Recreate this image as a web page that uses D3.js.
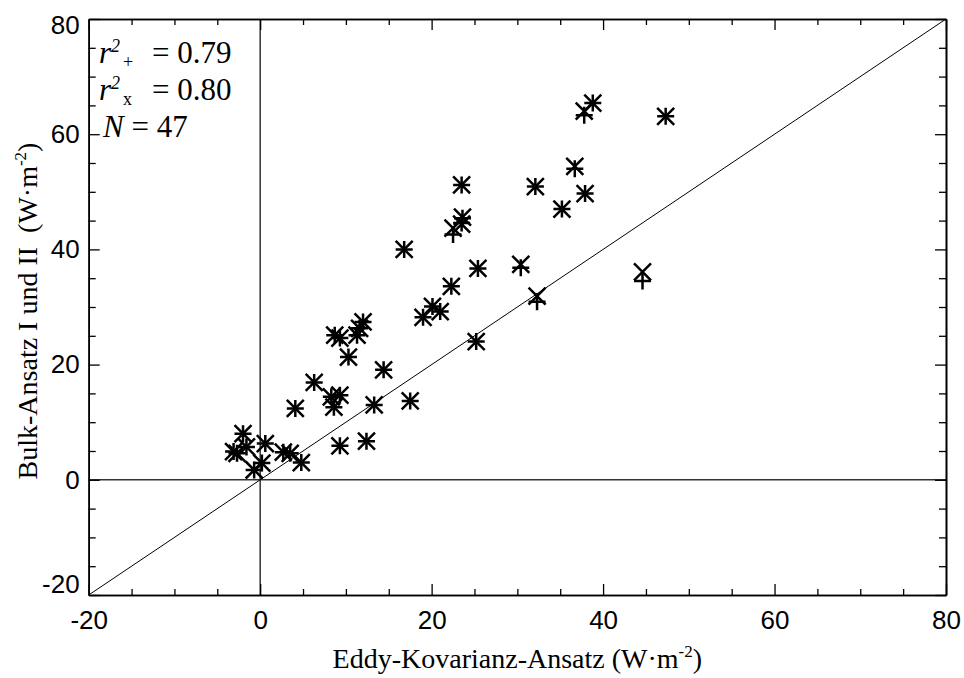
<!DOCTYPE html>
<html>
<head>
<meta charset="utf-8">
<script src="https://cdn.jsdelivr.net/npm/d3@7"></script>
<style>
  body { margin: 0; background: #fff; }
  svg { display: block; }
</style>
</head>
<body>
<div id="chart"></div>
<script>
// Eddy-Kovarianz-Ansatz (x) against Bulk-Ansatz I (+) and II (x), W m-2
const eddyX = [
    38.8, 37.8, 47.3, 36.7, 37.9, 35.2, 23.5, 32.1, 23.6, 23.5,
    22.5, 25.4, 30.4, 22.3, 32.3, 20.1, 21.0, 19.0, 25.2, 16.8,
    12.0, 11.6, 11.3, 8.7, 9.3, 10.3, 14.4, 6.3, 8.3, 9.3,
    8.6, 13.3, 17.5, 4.1, 9.3, 12.4, 44.6, -2.0, -3.1, -2.7,
    -1.6, 0.6, 2.7, 3.5, 4.8, 0.2, -0.7
];
const bulkPlus = [
    65.4, 63.3, 63.1, 54.0, 49.7, 47.0, 51.2, 50.9, 45.4, 44.6,
    42.6, 36.7, 36.8, 33.6, 30.9, 30.1, 29.2, 28.2, 24.0, 40.0,
    27.4, 26.3, 25.1, 25.1, 24.6, 21.3, 19.1, 16.9, 14.4, 14.7,
    12.6, 13.0, 13.7, 12.4, 5.9, 6.7, 34.5, 8.0, 4.9, 4.6,
    5.7, 6.3, 4.8, 4.6, 3.0, 2.9, 1.7
];
const bulkCross = [
    65.4, 64.0, 63.1, 54.4, 49.7, 47.0, 51.2, 50.9, 45.6, 44.4,
    43.7, 36.7, 37.4, 33.6, 31.9, 30.1, 29.2, 28.2, 24.0, 40.0,
    27.4, 26.3, 25.1, 25.1, 24.6, 21.3, 19.1, 16.9, 14.4, 14.7,
    12.6, 13.0, 13.7, 12.4, 5.9, 6.7, 36.1, 8.0, 4.9, 4.6,
    5.7, 6.3, 4.8, 4.6, 3.0, 2.9, 1.7
];
const majorTicks = [-20, 0, 20, 40, 60, 80];
const minorTicks = d3.range(-20, 81, 5).filter(v => v % 20 !== 0);
const statLines = [
    { sub: '+', value: '= 0.79' },
    { sub: 'x', value: '= 0.80' }
];
const sampleSize = 47;

const width = 964;
const height = 678;
const plotLeft = 88.7, plotRight = 946, plotTop = 19, plotBottom = 595;

const serif = '"Liberation Serif", "Times New Roman", serif';
const sans = '"Liberation Sans", Arial, sans-serif';

const svg = d3.select('#chart').append('svg')
    .attr('width', width)
    .attr('height', height);

const x = d3.scaleLinear().domain([-20, 80]).range([plotLeft, plotRight]);
const y = d3.scaleLinear().domain([-20, 80]).range([plotBottom, plotTop]);
const plain = d => String(d); // hyphen instead of unicode minus

// reference lines: zero lines and 1:1 line
svg.append('line')
    .attr('x1', x(0)).attr('x2', x(0))
    .attr('y1', y(-20)).attr('y2', y(80))
    .attr('stroke', '#000').attr('stroke-width', 1.2);
svg.append('line')
    .attr('x1', x(-20)).attr('x2', x(80))
    .attr('y1', y(0)).attr('y2', y(0))
    .attr('stroke', '#333').attr('stroke-width', 1.6);
svg.append('line')
    .attr('x1', x(-20)).attr('x2', x(80))
    .attr('y1', y(-20)).attr('y2', y(80))
    .attr('stroke', '#000').attr('stroke-width', 1);

// axes, ticks pointing inward on all four sides
function styleAxis(g) {
    g.selectAll('path.domain').attr('stroke', '#000').attr('stroke-width', 1.6);
    g.selectAll('.tick line').attr('stroke', '#000').attr('stroke-width', 1.3);
    g.selectAll('text').attr('font-family', sans).attr('font-size', 26).attr('fill', '#000');
}

svg.append('g')
    .attr('transform', `translate(0,${plotBottom})`)
    .call(d3.axisBottom(x).tickValues(majorTicks).tickSize(-11).tickSizeOuter(0).tickPadding(16).tickFormat(plain))
    .call(styleAxis);
svg.append('g')
    .attr('transform', `translate(0,${plotBottom})`)
    .call(d3.axisBottom(x).tickValues(minorTicks).tickSize(-6).tickSizeOuter(0).tickFormat(''))
    .call(styleAxis);
svg.append('g')
    .attr('transform', `translate(0,${plotTop})`)
    .call(d3.axisTop(x).tickValues(majorTicks).tickSize(-11).tickSizeOuter(0).tickFormat(''))
    .call(styleAxis);
svg.append('g')
    .attr('transform', `translate(0,${plotTop})`)
    .call(d3.axisTop(x).tickValues(minorTicks).tickSize(-6).tickSizeOuter(0).tickFormat(''))
    .call(styleAxis);

const yAxis = svg.append('g')
    .attr('transform', `translate(${plotLeft},0)`)
    .call(d3.axisLeft(y).tickValues(majorTicks).tickSize(-11).tickSizeOuter(0).tickPadding(9).tickFormat(plain))
    .call(styleAxis);
svg.append('g')
    .attr('transform', `translate(${plotLeft},0)`)
    .call(d3.axisLeft(y).tickValues(minorTicks).tickSize(-7).tickSizeOuter(0).tickFormat(''))
    .call(styleAxis);
svg.append('g')
    .attr('transform', `translate(${plotRight},0)`)
    .call(d3.axisRight(y).tickValues(majorTicks).tickSize(-11).tickSizeOuter(0).tickFormat(''))
    .call(styleAxis);
svg.append('g')
    .attr('transform', `translate(${plotRight},0)`)
    .call(d3.axisRight(y).tickValues(minorTicks).tickSize(-7).tickSizeOuter(0).tickFormat(''))
    .call(styleAxis);

// end labels on the y axis sit inside the frame
yAxis.selectAll('.tick text')
    .attr('dy', d => d === 80 ? '0.55em' : d === -20 ? '-0.1em' : '0.32em');

// markers: + for Bulk I, x for Bulk II
const points = eddyX.map((v, i) => ({ ex: v, bp: bulkPlus[i], bc: bulkCross[i] }));
const s = 8.5;

svg.append('g').selectAll('path.plus')
    .data(points)
    .join('path')
    .attr('class', 'plus')
    .attr('d', d => `M${x(d.ex) - s},${y(d.bp)}h${2 * s}M${x(d.ex)},${y(d.bp) - s}v${2 * s}`)
    .attr('stroke', '#000').attr('stroke-width', 2.5).attr('fill', 'none');

svg.append('g').selectAll('path.cross')
    .data(points)
    .join('path')
    .attr('class', 'cross')
    .attr('d', d => `M${x(d.ex) - s},${y(d.bc) - s}l${2 * s},${2 * s}M${x(d.ex) - s},${y(d.bc) + s}l${2 * s},${-2 * s}`)
    .attr('stroke', '#000').attr('stroke-width', 2.5).attr('fill', 'none');

// statistics in the upper left corner, r with superscript 2 and marker subscript
const stats = svg.append('g');
statLines.forEach((line, i) => {
    const base = 63 + i * 37;
    const t = stats.append('text')
        .attr('x', 99).attr('y', base)
        .attr('font-family', serif).attr('font-size', 31).attr('fill', '#000');
    t.append('tspan').attr('font-style', 'italic').text('r');
    t.append('tspan').attr('font-style', 'italic').attr('font-size', 18).attr('dy', -11).text('2');
    t.append('tspan').attr('font-size', 18).attr('dx', 3).attr('dy', 16).text(line.sub);
    t.append('tspan').attr('x', 152).attr('dy', -5).text(line.value);
});
const nText = stats.append('text')
    .attr('x', 103).attr('y', 137)
    .attr('font-family', serif).attr('font-size', 31).attr('fill', '#000');
nText.append('tspan').attr('font-style', 'italic').text('N');
nText.append('tspan').text(' = ' + sampleSize);

// axis titles
const xTitle = svg.append('text')
    .attr('x', (plotLeft + plotRight) / 2).attr('y', 668)
    .attr('text-anchor', 'middle')
    .attr('font-family', serif).attr('font-size', 28);
xTitle.append('tspan').text('Eddy-Kovarianz-Ansatz (W·m');
xTitle.append('tspan').attr('dy', -11).attr('font-size', 17).text('-2');
xTitle.append('tspan').attr('dy', 11).text(')');

const yTitle = svg.append('text')
    .attr('transform', `translate(37,${(plotTop + plotBottom) / 2 + 4}) rotate(-90)`)
    .attr('text-anchor', 'middle')
    .attr('font-family', serif).attr('font-size', 28)
    .style('white-space', 'pre');
yTitle.append('tspan').text('Bulk-Ansatz I und II  (W·m');
yTitle.append('tspan').attr('dy', -11).attr('font-size', 17).text('-2');
yTitle.append('tspan').attr('dy', 11).text(')');
</script>
</body>
</html>
